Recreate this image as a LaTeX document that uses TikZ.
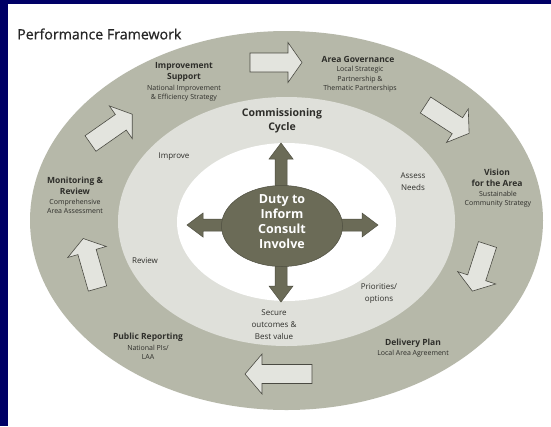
\documentclass[tikz,border=0pt]{standalone}
\usepackage{fontspec}
\setmainfont{Open Sans}
\usetikzlibrary{shapes.geometric}
\definecolor{framenavy}{HTML}{000066}
\definecolor{outerring}{HTML}{B6B8A9}
\definecolor{innerring}{HTML}{DFE0DA}
\definecolor{hubfill}{HTML}{6B6B57}
\definecolor{hubline}{HTML}{4E4E40}
\definecolor{arrowfill}{HTML}{E3E4DE}
\definecolor{arrowline}{HTML}{4A4A42}
\definecolor{labeltext}{HTML}{2E2E2A}

% block arrow: x, y of tail centre, angle, total length, head length
\newcommand{\ringarrow}[5]{%
  \filldraw[ringarrowstyle, shift={(#1,#2)}, rotate=#3]
    (0,-9.5) -- (#4-#5,-9.5) -- (#4-#5,-20) -- (#4,0) -- (#4-#5,20)
    -- (#4-#5,9.5) -- (0,9.5) -- cycle;}
% arrow leaving the hub: angle, length
\newcommand{\hubarrow}[2]{%
  \filldraw[hubarrowstyle, shift={(281,225)}, rotate=#1]
    (0,-6) -- (#2-16,-6) -- (#2-16,-12) -- (#2,0) -- (#2-16,12)
    -- (#2-16,6) -- (0,6) -- cycle;}

\begin{document}
\begin{tikzpicture}[x=1pt,y=-1pt,
  ringarrowstyle/.style={fill=arrowfill, draw=arrowline, line width=0.6pt, line join=miter},
  hubarrowstyle/.style={fill=hubfill, draw=hubline, line width=0.5pt},
  title/.style={inner sep=0pt, align=center, text=labeltext, font=\fontsize{8.5}{11}\selectfont\bfseries},
  subtitle/.style={inner sep=0pt, align=center, text=labeltext, font=\fontsize{7}{9.5}\selectfont},
  stage/.style={inner sep=0pt, align=center, text=labeltext, font=\fontsize{8}{11.5}\selectfont},
]
\useasboundingbox (0,0) rectangle (551,426);
% frame and page
\fill[framenavy] (0,0) rectangle (551,426);
\fill[white] (8,4) rectangle (551,426);

% rings
\fill[outerring] (286.5,220.5) ellipse [x radius=256.5pt, y radius=189.5pt];
\fill[innerring] (286.5,221.5) ellipse [x radius=168.5pt, y radius=124.5pt];
\fill[white] (286.5,222) ellipse [x radius=109.5pt, y radius=79pt];

% block arrows around the outer ring
\ringarrow{250}{62.5}{0}{52}{14}
\ringarrow{425.5}{105}{-33}{52}{14}
\ringarrow{487.5}{244.5}{-108}{49}{14}
\ringarrow{312}{374}{180}{67}{17}
\ringarrow{97.5}{288.5}{106}{52}{14}
\ringarrow{90.5}{143.5}{35}{51}{14}

% arrows from the hub
\hubarrow{90}{82}
\hubarrow{-90}{77}
\hubarrow{180}{94}
\hubarrow{0}{97}

% hub
\node[ellipse, fill=hubfill, draw=hubline, line width=0.5pt, minimum width=121pt, minimum height=81pt, inner sep=0pt] (hub) at (282,226) {};
\node[inner sep=0pt, align=center, text=white, font=\fontsize{12.5}{15}\selectfont\bfseries] (duty) at (282,222) {Duty to\\Inform\\Consult\\Involve};

% heading
\node[anchor=west, inner sep=0pt, text=black!85, font=\fontsize{14.2}{17}\selectfont\addfontfeature{FakeBold=0.6}] (heading) at (17,34) {Performance Framework};

% outer ring labels
\node[title] (impT) at (184,71.5) {Improvement\\Support};
\node[subtitle] (impS) at (184,93) {National Improvement\\\& Efficiency Strategy};
\node[title] (govT) at (358,59) {Area Governance};
\node[subtitle] (govS) at (360,79.5) {Local Strategic\\Partnership \&\\Thematic Partnerships};
\node[title] (visT) at (497,178) {Vision\\for the Area};
\node[subtitle] (visS) at (498,199) {Sustainable\\Community Strategy};
\node[title] (delT) at (413,343) {Delivery Plan};
\node[subtitle] (delS) at (413,354) {Local Area Agreement};
\node[title] (pubT) at (148,337) {Public Reporting};
\node[subtitle] (pubS) at (148,352.5) {National PIs/\\LAA};
\node[title] (monT) at (75,185.5) {Monitoring \&\\Review};
\node[subtitle] (monS) at (75,206.5) {Comprehensive\\Area Assessment};

% commissioning cycle labels
\node[inner sep=0pt, align=center, text=labeltext, font=\fontsize{10.5}{14}\selectfont\bfseries] (cycle) at (282,121) {Commissioning\\Cycle};
\node[stage] (assess) at (413,181.5) {Assess\\Needs};
\node[stage, font=\fontsize{8}{12}\selectfont] (prio) at (379,294) {Priorities/\\options};
\node[stage, font=\fontsize{8}{12}\selectfont] (secure) at (274,325) {Secure\\outcomes \&\\Best value};
\node[stage] (review) at (145,261) {Review};
\node[stage] (improve) at (174,157) {Improve};
\end{tikzpicture}
\end{document}
